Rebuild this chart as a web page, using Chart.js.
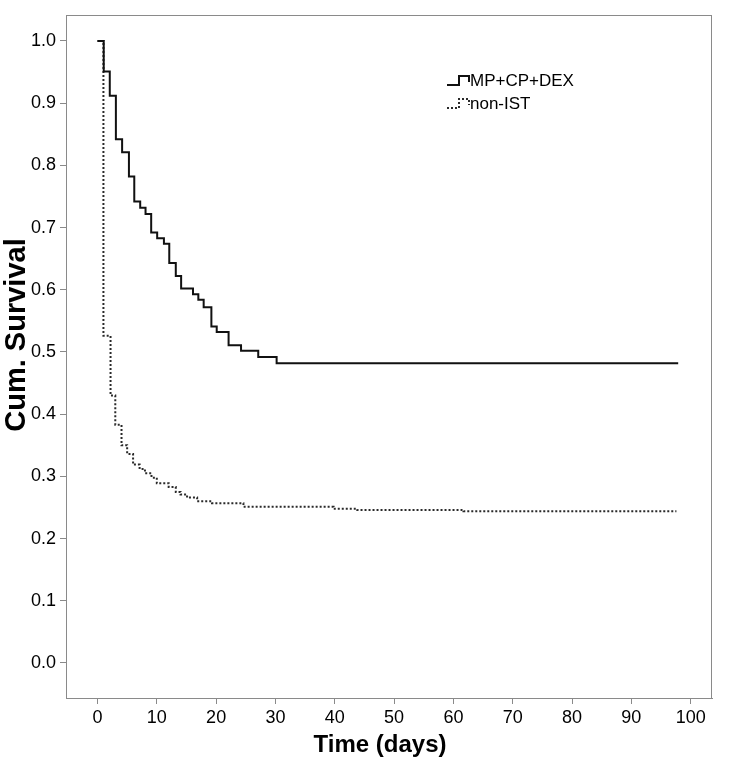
<!DOCTYPE html>
<html>
<head>
<meta charset="utf-8">
<script src="https://cdn.jsdelivr.net/npm/chart.js@4/dist/chart.umd.min.js"></script>
<style>
  body { margin: 0; background: #fff; }
  #wrap { width: 729px; height: 774px; }
</style>
</head>
<body>
<div id="wrap"><canvas id="kmChart"></canvas></div>
<script>
// данные (ступенчатые кривые Каплана-Мейера)
const seriesNames = ["MP+CP+DEX", "non-IST"];

const mpTime = [0, 1.05, 2.07, 3.1, 4.15, 5.3, 6.2, 7.2, 8.1, 9.05, 10.06, 11.2, 12.1, 13.2, 14.1,
                16.1, 17.0, 17.9, 19.2, 20.1, 22.1, 24.2, 27.1, 30.2, 97.9];
const mpSurv = [1.0, 0.951, 0.912, 0.842, 0.821, 0.782, 0.742, 0.732, 0.722, 0.692, 0.683, 0.674, 0.643, 0.622, 0.602,
                0.593, 0.584, 0.572, 0.541, 0.532, 0.511, 0.502, 0.492, 0.482, 0.482];

const nonTime = [0, 1.0, 2.2, 3.0, 4.05, 5.0, 6.0, 7.1, 8.0, 9.1, 10.0, 12.0, 13.2, 14.0, 15.1,
                 16.8, 19.3, 24.6, 39.8, 43.8, 61.7, 97.6];
const nonSurv = [1.0, 0.526, 0.43, 0.383, 0.35, 0.336, 0.319, 0.312, 0.305, 0.298, 0.289, 0.283, 0.275, 0.271, 0.266,
                 0.26, 0.257, 0.251, 0.248, 0.246, 0.244, 0.244];

const xTicks = [0, 10, 20, 30, 40, 50, 60, 70, 80, 90, 100];
const yTicks = [0, 0.1, 0.2, 0.3, 0.4, 0.5, 0.6, 0.7, 0.8, 0.9, 1.0];

const xTitle = 'Time (days)';
const yTitle = 'Cum. Survival';

const toPoints = (xs, ys) => xs.map((x, i) => ({ x: x, y: ys[i] }));

const FONT = "'Liberation Sans', Arial, sans-serif";
const FRAME = '#8a8a8a';

// рамка, подписи осей и легенда внутри области графика
const framePlugin = {
    id: 'frameLegend',
    afterDraw(chart) {
        const { ctx, chartArea: a } = chart;
        ctx.save();
        ctx.strokeStyle = FRAME;
        ctx.lineWidth = 1;
        ctx.strokeRect(a.left + 0.5, a.top + 0.5, a.right - a.left - 1, a.bottom - a.top);

        // подписи осей
        ctx.fillStyle = '#000';
        ctx.textAlign = 'center';
        ctx.textBaseline = 'middle';
        ctx.font = "bold 24px " + FONT;
        ctx.fillText(xTitle, 380, 745);
        ctx.save();
        ctx.translate(17, 335);
        ctx.rotate(-Math.PI / 2);
        ctx.font = "bold 29px " + FONT;
        ctx.fillText(yTitle, 0, 0);
        ctx.restore();

        // легенда
        const items = [
            { y: 81, ds: chart.data.datasets[0] },
            { y: 104, ds: chart.data.datasets[1] }
        ];
        ctx.font = "17px " + FONT;
        ctx.textAlign = 'left';
        items.forEach(it => {
            ctx.strokeStyle = it.ds.borderColor;
            ctx.lineWidth = 2;
            ctx.setLineDash(it.ds.borderDash || []);
            ctx.beginPath();
            ctx.moveTo(447, it.y + 4);
            ctx.lineTo(459, it.y + 4);
            ctx.lineTo(459, it.y - 5);
            ctx.lineTo(469, it.y - 5);
            ctx.lineTo(469, it.y + 1);
            ctx.stroke();
            ctx.setLineDash([]);
            ctx.fillText(it.ds.label, 470, it.y);
        });
        ctx.restore();
    }
};

new Chart(document.getElementById('kmChart'), {
    type: 'line',
    data: {
        datasets: [{
            label: seriesNames[0],
            data: toPoints(mpTime, mpSurv),
            stepped: true,
            borderColor: '#111111',
            borderWidth: 2,
            pointRadius: 0,
            fill: false
        }, {
            label: seriesNames[1],
            data: toPoints(nonTime, nonSurv),
            stepped: true,
            borderColor: '#2a2a2a',
            borderWidth: 2,
            borderDash: [2, 2],
            pointRadius: 0,
            fill: false
        }]
    },
    options: {
        responsive: true,
        maintainAspectRatio: false,
        animation: false,
        layout: { padding: { left: 0, top: 15, right: 17, bottom: 0 } },
        plugins: {
            legend: { display: false },
            tooltip: { enabled: false }
        },
        scales: {
            x: {
                type: 'linear',
                min: -5.31,
                max: 103.6,
                afterBuildTicks: axis => { axis.ticks = xTicks.map(v => ({ value: v })); },
                afterFit: axis => { axis.height = 76; },
                grid: { drawOnChartArea: false, drawTicks: true, tickLength: 6, color: FRAME },
                border: { color: FRAME },
                ticks: { color: '#000', padding: 3, maxRotation: 0, font: { family: FONT, size: 18 } },
                title: { display: false }
            },
            y: {
                min: -0.0563,
                max: 1.0418,
                afterBuildTicks: axis => { axis.ticks = yTicks.map(v => ({ value: v })); },
                afterFit: axis => { axis.width = 66; },
                grid: { drawOnChartArea: false, drawTicks: true, tickLength: 6, color: FRAME },
                border: { color: FRAME },
                ticks: {
                    color: '#000',
                    padding: 4,
                    font: { family: FONT, size: 18 },
                    callback: v => Number(v).toFixed(1)
                },
                title: { display: false }
            }
        }
    },
    plugins: [framePlugin]
});
</script>
</body>
</html>
